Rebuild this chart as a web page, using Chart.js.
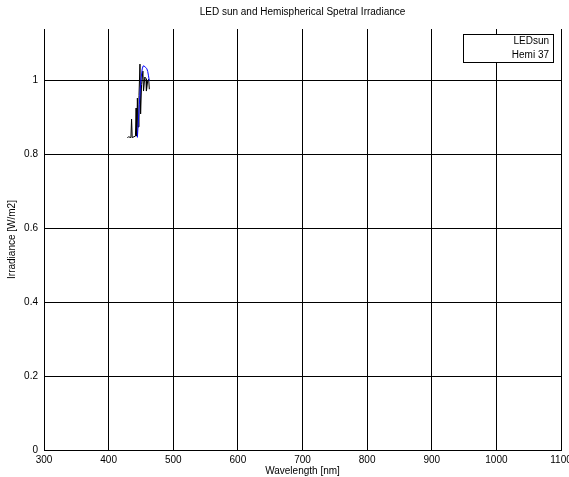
<!DOCTYPE html>
<html>
<head>
<meta charset="utf-8">
<script src="https://cdn.jsdelivr.net/npm/chart.js@4/dist/chart.umd.min.js"></script>
<style>
  html, body { margin: 0; padding: 0; background: #fff; }
  #wrap { width: 569px; height: 477px; }
</style>
</head>
<body>
<div id="wrap"><canvas id="chart"></canvas></div>
<script>
// series
const ledWavelength = [444.5, 446, 447.5, 449, 450.5, 452, 453.5, 455, 457, 459, 460.5, 461.5, 463];
const ledIrradiance = [0.846, 0.89, 0.935, 0.98, 1.01, 1.032, 1.04, 1.04, 1.036, 1.033, 1.025, 1.015, 1.0];

const hemiWavelength = [429, 431, 434.5, 435.5, 436.5, 441.5, 442.5, 443.5, 444.5, 445.5, 447, 448.5, 449.5, 451, 453, 454, 456, 458, 458.5, 460.5, 462, 463];
const hemiIrradiance = [0.846, 0.848, 0.846, 0.896, 0.846, 0.85, 0.926, 0.85, 0.953, 0.875, 0.96, 1.045, 0.91, 0.99, 1.026, 0.972, 1.01, 1.005, 0.972, 1.0, 1.004, 0.977];

const seriesLabels = ['LEDsun', 'Hemi 37'];
const seriesColors = ['#0000ff', '#000000'];

const xTicks = { min: 300, max: 1100, step: 100 };
const yTicks = { min: 0, max: 1.14, step: 0.2 };

const toPoints = (xs, ys) => xs.map((x, i) => ({ x: x, y: ys[i] }));

const font = { family: '"Liberation Sans", Arial, sans-serif', size: 10 };

// boxed legend, text only, right aligned
const boxLegend = {
  id: 'boxLegend',
  afterDraw(chart) {
    const ctx = chart.ctx;
    const area = chart.chartArea;
    const right = area.right - 8, top = area.top + 5;
    const w = 90, h = 28;
    ctx.save();
    ctx.fillStyle = '#fff';
    ctx.fillRect(right - w, top, w, h);
    ctx.strokeStyle = '#000';
    ctx.lineWidth = 1;
    ctx.strokeRect(right - w + 0.5, top + 0.5, w, h);
    ctx.fillStyle = '#000';
    ctx.font = '10px ' + font.family;
    ctx.textAlign = 'right';
    ctx.textBaseline = 'middle';
    chart.data.datasets.forEach((ds, i) => {
      ctx.fillText(ds.label, right - 4, top + 7.5 + i * 14);
    });
    ctx.restore();
  }
};

const data = {
  datasets: [
    {
      label: seriesLabels[0],
      data: toPoints(ledWavelength, ledIrradiance),
      borderColor: seriesColors[0],
      borderWidth: 1,
      pointRadius: 0,
      tension: 0
    },
    {
      label: seriesLabels[1],
      data: toPoints(hemiWavelength, hemiIrradiance),
      borderColor: seriesColors[1],
      borderWidth: 1,
      pointRadius: 0,
      tension: 0
    }
  ]
};

const config = {
  type: 'line',
  data: data,
  options: {
    responsive: true,
    maintainAspectRatio: false,
    animation: false,
    layout: { padding: { left: 0, right: 8, top: 0, bottom: 0 } },
    plugins: {
      legend: { display: false },
      tooltip: { enabled: false },
      title: {
        display: true,
        text: 'LED sun and Hemispherical Spetral Irradiance',
        color: '#000',
        font: { family: font.family, size: 10, weight: 'normal' },
        padding: { top: 6, bottom: 11 },
        fullSize: false
      }
    },
    scales: {
      x: {
        type: 'linear',
        min: xTicks.min,
        max: xTicks.max,
        afterFit: (scale) => {
          scale.height = 27;
          scale.paddingLeft = 0;
          scale.paddingRight = 0;
        },
        ticks: {
          stepSize: xTicks.step,
          color: '#000',
          font: font,
          padding: 4,
          maxRotation: 0,
          callback: (v) => String(v)
        },
        grid: { color: '#000', lineWidth: 1, drawTicks: false },
        border: { color: '#000', width: 1 },
        title: {
          display: true,
          text: 'Wavelength [nm]',
          color: '#000',
          font: font,
          padding: { top: 0, bottom: 0 }
        }
      },
      y: {
        type: 'linear',
        min: yTicks.min,
        max: yTicks.max,
        afterFit: (scale) => {
          scale.width = 44;
          scale.paddingTop = 0;
          scale.paddingBottom = 0;
        },
        ticks: {
          stepSize: yTicks.step,
          includeBounds: false,
          color: '#000',
          font: font,
          padding: 6,
          callback: (v) => Math.round(v * 10) / 10
        },
        grid: { color: '#000', lineWidth: 1, drawTicks: false },
        border: { color: '#000', width: 1 },
        title: {
          display: true,
          text: 'Irradiance [W/m2]',
          color: '#000',
          font: font,
          padding: { top: 6, bottom: 0 }
        }
      }
    }
  },
  plugins: [boxLegend]
};

new Chart(document.getElementById('chart'), config);
</script>
</body>
</html>
